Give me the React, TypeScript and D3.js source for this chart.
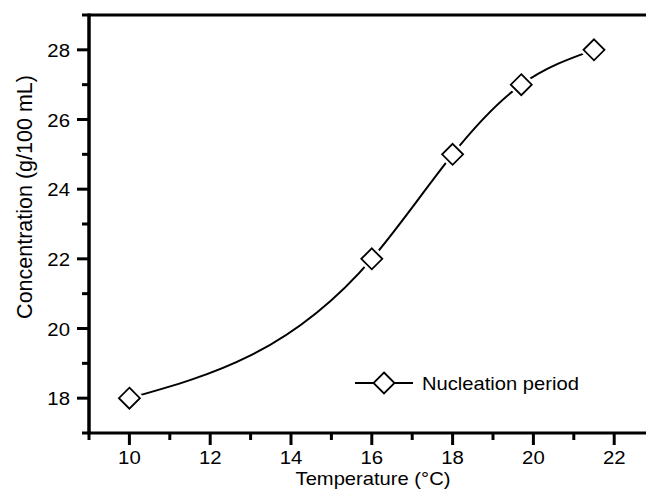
import React from "react"
import * as d3 from "d3"

const chart_width = 646
const chart_height = 491

// measured points of the nucleation period curve
const temperature = [10, 16, 18, 19.7, 21.5]
const concentration = [18, 22, 25, 27, 28]
const xTicks = [10, 12, 14, 16, 18, 20, 22]
const yTicks = [18, 20, 22, 24, 26, 28]
const xMinor = [9, 11, 13, 15, 17, 19, 21, 23]
const yMinor = [17, 19, 21, 23, 25, 27, 29]
const legendLabel = "Nucleation period"

const left = 89
const top = 15
const bottom = 433

const font = "Liberation Sans, Arial, Helvetica, sans-serif"

/* natural cubic spline in x, like the smoothed line of the original plot */
class NaturalX {
  _context: any
  _x: number[] = []
  _y: number[] = []
  constructor(context: any) {
    this._context = context
  }
  areaStart() {}
  areaEnd() {}
  lineStart() {
    this._x = []
    this._y = []
  }
  point(x: number, y: number) {
    this._x.push(+x)
    this._y.push(+y)
  }
  lineEnd() {
    const x = this._x
    const y = this._y
    const n = x.length
    const c = this._context
    if (!n) return
    c.moveTo(x[0], y[0])
    if (n === 2) {
      c.lineTo(x[1], y[1])
      return
    }
    const h: number[] = []
    const s: number[] = []
    for (let i = 0; i < n - 1; i++) {
      h[i] = x[i + 1] - x[i]
      s[i] = (y[i + 1] - y[i]) / h[i]
    }
    const M = new Array(n).fill(0)
    const a: number[] = []
    const b: number[] = []
    const cc: number[] = []
    const d: number[] = []
    for (let i = 1; i < n - 1; i++) {
      a[i] = h[i - 1]
      b[i] = 2 * (h[i - 1] + h[i])
      cc[i] = h[i]
      d[i] = 6 * (s[i] - s[i - 1])
    }
    for (let i = 2; i < n - 1; i++) {
      const w = a[i] / b[i - 1]
      b[i] -= w * cc[i - 1]
      d[i] -= w * d[i - 1]
    }
    for (let i = n - 2; i >= 1; i--) {
      M[i] = (d[i] - cc[i] * M[i + 1]) / b[i]
    }
    for (let i = 0; i < n - 1; i++) {
      const m0 = s[i] - (h[i] * (2 * M[i] + M[i + 1])) / 6
      const m1 = s[i] + (h[i] * (M[i] + 2 * M[i + 1])) / 6
      c.bezierCurveTo(
        x[i] + h[i] / 3,
        y[i] + (m0 * h[i]) / 3,
        x[i + 1] - h[i] / 3,
        y[i + 1] - (m1 * h[i]) / 3,
        x[i + 1],
        y[i + 1]
      )
    }
  }
}
const curveNaturalX = (context: any) => new NaturalX(context)

const App = () => {
  const x_scale = d3.scaleLinear().domain([9, 23]).range([left, left + 14 * 40.4])
  const y_scale = d3.scaleLinear().domain([17, 29]).range([bottom, top])

  const points = temperature.map((t, i) => [t, concentration[i]] as [number, number])
  const line = d3
    .line<[number, number]>()
    .x(d => x_scale(d[0]))
    .y(d => y_scale(d[1]))
    .curve(curveNaturalX as any)

  const diamond = (cx: number, cy: number, r = 10.5) =>
    `M${cx},${cy - r}L${cx + r},${cy}L${cx},${cy + r}L${cx - r},${cy}Z`

  const right = chart_width

  return (
    <svg
      width={chart_width}
      height={chart_height}
      style={{ position: "absolute", left: 0, top: 0, background: "#fff" }}
    >
      {/* frame */}
      <line x1={left} x2={right} y1={top} y2={top} stroke="#000" strokeWidth={3} />
      <line x1={left} x2={left} y1={top - 1.5} y2={bottom + 1.5} stroke="#000" strokeWidth={3.5} />
      <line x1={left - 1.5} x2={right} y1={bottom} y2={bottom} stroke="#000" strokeWidth={3} />

      {/* y ticks */}
      {yTicks.map(v => (
        <g key={"y" + v}>
          <line x1={left - 12} x2={left} y1={y_scale(v)} y2={y_scale(v)} stroke="#000" strokeWidth={3} />
          <text
            transform={`translate(${left - 19},${y_scale(v) + 7}) scale(1.1,1)`}
            textAnchor="end"
            fontFamily={font}
            fontSize={18.5}
          >
            {v}
          </text>
        </g>
      ))}
      {yMinor.map(v => (
        <line key={"ym" + v} x1={left - 7} x2={left} y1={y_scale(v)} y2={y_scale(v)} stroke="#000" strokeWidth={3} />
      ))}

      {/* x ticks */}
      {xTicks.map(v => (
        <g key={"x" + v}>
          <line x1={x_scale(v)} x2={x_scale(v)} y1={bottom} y2={bottom + 12} stroke="#000" strokeWidth={3} />
          <text
            transform={`translate(${x_scale(v)},${bottom + 31}) scale(1.1,1)`}
            textAnchor="middle"
            fontFamily={font}
            fontSize={18.5}
          >
            {v}
          </text>
        </g>
      ))}
      {xMinor.map(v => (
        <line key={"xm" + v} x1={x_scale(v)} x2={x_scale(v)} y1={bottom} y2={bottom + 7} stroke="#000" strokeWidth={3} />
      ))}

      {/* axis titles */}
      <text
        transform="translate(373,485) scale(1.14,1)"
        textAnchor="middle"
        fontFamily={font}
        fontSize={17.7}
      >
        Temperature (°C)
      </text>
      <text
        transform="translate(32,197) rotate(-90)"
        textAnchor="middle"
        fontFamily={font}
        fontSize={21.5}
      >
        Concentration (g/100 mL)
      </text>

      {/* curve */}
      <path d={line(points) || ""} fill="none" stroke="#000" strokeWidth={2} />
      {points.map((d, i) => (
        <g key={i}>
          <path d={diamond(x_scale(d[0]), y_scale(d[1]))} fill="#fff" stroke="#fff" strokeWidth={7} />
          <path d={diamond(x_scale(d[0]), y_scale(d[1]))} fill="#fff" stroke="#000" strokeWidth={1.8} />
        </g>
      ))}

      {/* legend */}
      <line x1={355} x2={413} y1={383} y2={383} stroke="#000" strokeWidth={2} />
      <path d={diamond(384, 383)} fill="#fff" stroke="#000" strokeWidth={1.8} />
      <text
        transform="translate(422,390) scale(1.12,1)"
        fontFamily={font}
        fontSize={18}
      >
        {legendLabel}
      </text>
    </svg>
  )
}

export default App
